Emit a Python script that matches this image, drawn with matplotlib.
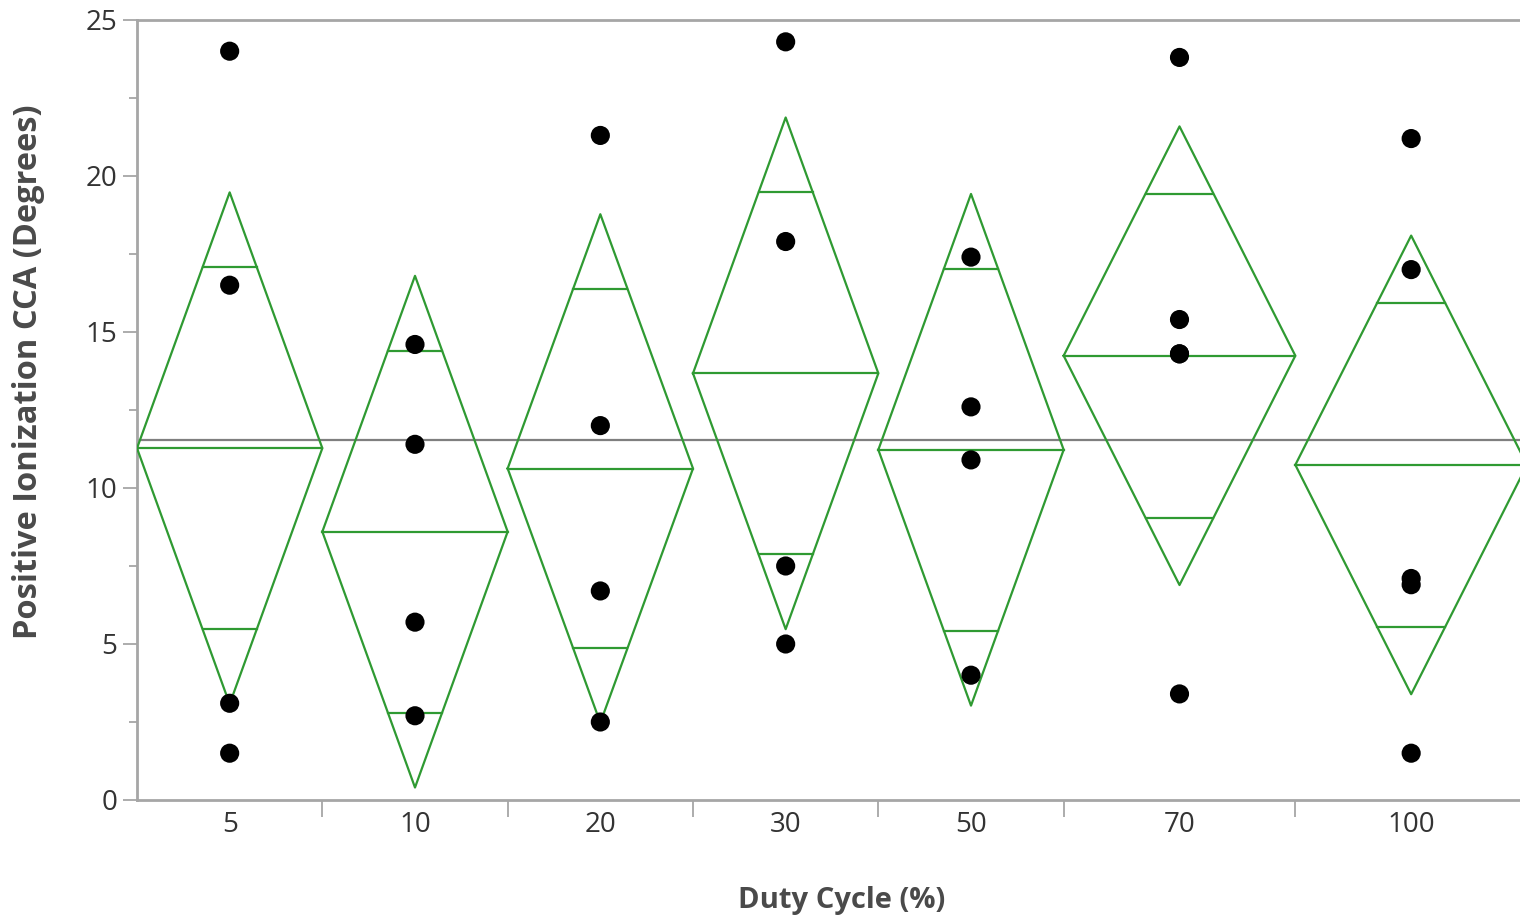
import numpy as np
import matplotlib
matplotlib.use("Agg")
import matplotlib.pyplot as plt

# Duty cycle groups and the measured contact angles
duty_labels = ["5", "10", "20", "30", "50", "70", "100"]
cca_5 = [24.0, 16.5, 3.1, 1.5]
cca_10 = [14.6, 11.4, 5.7, 2.7]
cca_20 = [21.3, 12.0, 6.7, 2.5]
cca_30 = [24.3, 17.9, 7.5, 5.0]
cca_50 = [17.4, 12.6, 10.9, 4.0]
cca_70 = [23.8, 15.4, 14.3, 14.3, 3.4]
cca_100 = [21.2, 17.0, 7.1, 6.9, 1.5]
groups = [cca_5, cca_10, cca_20, cca_30, cca_50, cca_70, cca_100]

# 95% CI half-widths of the group means (pooled error)
ci_half = [8.2, 8.2, 8.15, 8.2, 8.2, 7.35, 7.35]

GREEN = "#2f9a32"
SPINE = "#a6a6a6"
TEXT = "#4a4a4a"

plt.rcParams["font.family"] = ["Open Sans", "DejaVu Sans"]

fig = plt.figure(figsize=(15.2, 9.16), dpi=100)
ax = fig.add_axes([137 / 1520, 1 - 800 / 916, 1390 / 1520, 780 / 916])

# each group gets a slot as wide as its sample size
sizes = np.array([len(g) for g in groups], dtype=float)
edges = np.concatenate([[0], np.cumsum(sizes)])
centers = (edges[:-1] + edges[1:]) / 2

all_vals = np.concatenate(groups)
grand_mean = all_vals.mean()
ax.axhline(grand_mean, color="#7f7f7f", lw=1.6, zorder=2)

for i, g in enumerate(groups):
    m = np.mean(g)
    h = ci_half[i]
    x0, x1, xc = edges[i], edges[i + 1], centers[i]
    # means diamond
    ax.plot([x0, xc, x1, xc, x0], [m, m + h, m, m - h, m],
            color=GREEN, lw=1.6, zorder=3)
    ax.plot([x0, x1], [m, m], color=GREEN, lw=1.6, zorder=3)
    # overlap marks
    o = h / np.sqrt(2)
    hw = (x1 - x0) / 2 * (1 - o / h)
    for y in (m + o, m - o):
        ax.plot([xc - hw, xc + hw], [y, y], color=GREEN, lw=1.6, zorder=3)
    ax.scatter(np.full(len(g), xc), g, s=190, color="black",
               edgecolors="none", zorder=4)

ax.set_xlim(edges[0], edges[-1])
ax.set_ylim(0, 25)

# y axis: labelled majors every 5, unlabelled minors in between
ax.set_yticks(np.arange(0, 26, 5))
ax.set_yticks(np.arange(2.5, 25, 5), minor=True)
ax.tick_params(axis="y", which="major", length=10, width=1.3, color=SPINE,
               labelsize=20, labelcolor="#333333", pad=4)
ax.tick_params(axis="y", which="minor", length=6, width=1.3, color=SPINE)

# x axis: labels at group centres, tick marks on the slot boundaries
ax.set_xticks(centers)
ax.set_xticklabels(duty_labels)
ax.set_xticks(edges[1:-1], minor=True)
ax.tick_params(axis="x", which="major", length=0, labelsize=20,
               labelcolor="#333333", pad=8)
ax.tick_params(axis="x", which="minor", length=12, width=1.3, color=SPINE)

for side in ["left", "bottom", "top", "right"]:
    ax.spines[side].set_color(SPINE)
    ax.spines[side].set_linewidth(2)

ax.set_ylabel("Positive Ionization CCA (Degrees)", fontsize=23.5,
              fontweight="bold", color=TEXT)
ax.yaxis.set_label_coords(-0.066, 0.549)
ax.set_xlabel("Duty Cycle (%)", fontsize=21, fontweight="bold", color=TEXT)
ax.xaxis.set_label_coords(0.507, -0.11)

fig.savefig("out.png", dpi=100, facecolor="white")
